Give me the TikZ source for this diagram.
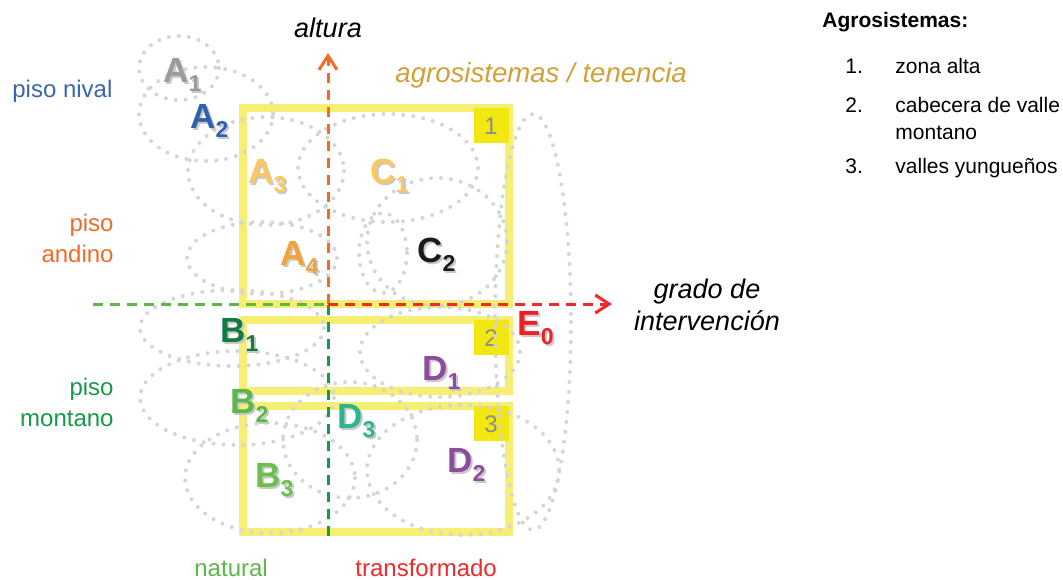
\documentclass[tikz,border=0pt]{standalone}
\usepackage{fontspec}
\setmainfont{Liberation Sans}
\usetikzlibrary{arrows.meta, positioning}
\definecolor{ZoneYellow}{HTML}{F6EF74}
\definecolor{TagYellow}{HTML}{F2E70F}
\definecolor{TagGray}{HTML}{8C8C8C}
\definecolor{DotGray}{HTML}{D5D5D5}
\definecolor{ShadowGray}{HTML}{C8C8C8}
\definecolor{AltOrange}{HTML}{F26A25}
\definecolor{NatGreen}{HTML}{5CB848}
\definecolor{MonGreen}{HTML}{17994A}
\definecolor{TransRed}{HTML}{EE2A2A}
\definecolor{NivalBlue}{HTML}{3A66AE}
\definecolor{AndinoOrange}{HTML}{F06A28}
\definecolor{TenGold}{HTML}{D2A036}
\definecolor{LabGray}{HTML}{9B9B9B}
\definecolor{LabBlue}{HTML}{2F62AE}
\definecolor{LabPeach}{HTML}{FDC75F}
\definecolor{LabOrange}{HTML}{F6A038}
\definecolor{LabBlack}{HTML}{1A1A1A}
\definecolor{LabDarkGreen}{HTML}{127B3F}
\definecolor{LabGreen}{HTML}{5BB848}
\definecolor{LabLeaf}{HTML}{6CBF4A}
\definecolor{LabPurple}{HTML}{8C4D9E}
\definecolor{LabTeal}{HTML}{2EB38E}
\definecolor{LabRed}{HTML}{EE2026}
\newcommand\zonelab[2]{#1\raisebox{-4.5pt}{\fontsize{11.5}{11.5}\selectfont #2}}

\begin{document}
\begin{tikzpicture}[x=0.5pt, y=-0.5pt, >={Straight Barb[length=7pt, width=9pt]},
        zone/.style={draw=ZoneYellow, line width=4pt, inner sep=0pt, minimum width=133.25pt},
        tag/.style={fill=TagYellow, minimum size=17.5pt, inner sep=0pt, anchor=north east, text=TagGray, font=\fontsize{12}{12}\selectfont},
        blob/.style={draw=DotGray, line width=2pt, dash pattern=on 0pt off 5pt, line cap=round},
        axis/.style={->, line width=1.5pt, dash pattern=on 5pt off 3.5pt},
        biglab/.style={anchor=base west, inner sep=0pt, font=\fontsize{17.5}{17.5}\selectfont\bfseries},
        floor/.style={inner sep=0pt, font=\fontsize{12}{15.5}\selectfont},
        legend/.style={anchor=base west, inner sep=0pt, font=\fontsize{10.5}{13.5}\selectfont}]
        \useasboundingbox (0,0) rectangle (1063,579);

        % agrosystem boxes
        \node[zone, minimum height=98pt] (zone1) at (375.75,206) {};
        \node[zone, minimum height=35.5pt] (zone2) at (375.75,355.5) {};
        \node[zone, minimum height=62.75pt] (zone3) at (375.75,468.75) {};
        \node[tag] (tag1) at ([xshift=-2pt, yshift=-2pt]zone1.north east) {1};
        \node[tag] (tag2) at ([xshift=-2pt, yshift=-2pt]zone2.north east) {2};
        \node[tag] (tag3) at ([xshift=-2pt, yshift=-2pt]zone3.north east) {3};

        % dotted ranges
        \foreach \cx/\cy/\rx/\ry in {179/68/40/32, 206/114/67/47, 266/171/78/54, 388/168/90/54,
                262/258/75/36, 383/253/24/40, 437/242/70/64, 533/322/38/208,
                232/328/92/38, 237/398/97/47, 270/478/85/55, 440/352/80/45,
                350/440/67/58, 463/470/96/65}
            \draw[blob] (\cx,\cy) ellipse [x radius=\rx, y radius=\ry];

        % axes
        \coordinate (origin) at (328,304);
        \coordinate (alttop) at (328,53);
        \coordinate (altbottom) at (328,536);
        \coordinate (natleft) at (93,304);
        \coordinate (intright) at (612,304);
        \draw[axis, -, NatGreen] (natleft) -- (origin);
        \draw[axis, -, MonGreen] (altbottom) -- (origin);
        \draw[axis, AltOrange] (origin) -- (alttop);
        \draw[axis, TransRed] (origin) -- (intright);

        % axis texts
        \node[anchor=base, inner sep=0pt, font=\fontsize{13.5}{16}\selectfont\itshape] (altura) at (328,37) {altura};
        \node[anchor=base west, inner sep=0pt, font=\fontsize{13.8}{16}\selectfont\itshape, text=TenGold] (tenencia) at (395,82) {agrosistemas / tenencia};
        \node[anchor=base, align=center, inner sep=0pt, font=\fontsize{13.5}{16}\selectfont\itshape] (grado) at (707,330) {grado de\\intervención};
        \node[floor, anchor=base west, text=NivalBlue] (nival) at (12,97) {piso nival};
        \node[floor, anchor=base east, align=right, text=AndinoOrange] (andino) at (114,262) {piso\\andino};
        \node[floor, anchor=base east, align=right, text=MonGreen] (montano) at (114,426) {piso\\montano};
        \node[floor, anchor=base west, text=NatGreen] (natural) at (194,576) {natural};
        \node[floor, anchor=base west, text=TransRed] (transformado) at (355,576) {transformado};

        % unit labels
        \foreach \nm/\px/\py/\col/\ch/\sb in {a1/163/82/LabGray/A/1, a2/190/128/LabBlue/A/2,
                a3/248/183/LabPeach/A/3, a4/280/265/LabOrange/A/4, c1/370/183/LabPeach/C/1,
                c2/417/262/LabBlack/C/2, b1/220/342/LabDarkGreen/B/1, b2/230/413/LabGreen/B/2,
                b3/255/487/LabLeaf/B/3, d1/422/380/LabPurple/D/1, d3/337/428/LabTeal/D/3,
                d2/447/472/LabPurple/D/2, e0/517/335/LabRed/E/0} {
            \node[biglab, text=ShadowGray, xshift=1pt, yshift=-1pt] at (\px,\py) {\zonelab{\ch}{\sb}};
            \node[biglab, text=\col] (\nm) at (\px,\py) {\zonelab{\ch}{\sb}};
        }

        % legend
        \node[legend, font=\fontsize{10.5}{13.5}\selectfont\bfseries] (legtitle) at (822,27) {Agrosistemas:};
        \node[legend] (num1) at (845,73) {1.};
        \node[legend] (item1) at (895,73) {zona alta};
        \node[legend] (num2) at (845,112) {2.};
        \node[legend, align=left] (item2) at (895,139) {cabecera de valle\\montano};
        \node[legend] (num3) at (845,173) {3.};
        \node[legend] (item3) at (895,173) {valles yungueños};
    \end{tikzpicture}
\end{document}
